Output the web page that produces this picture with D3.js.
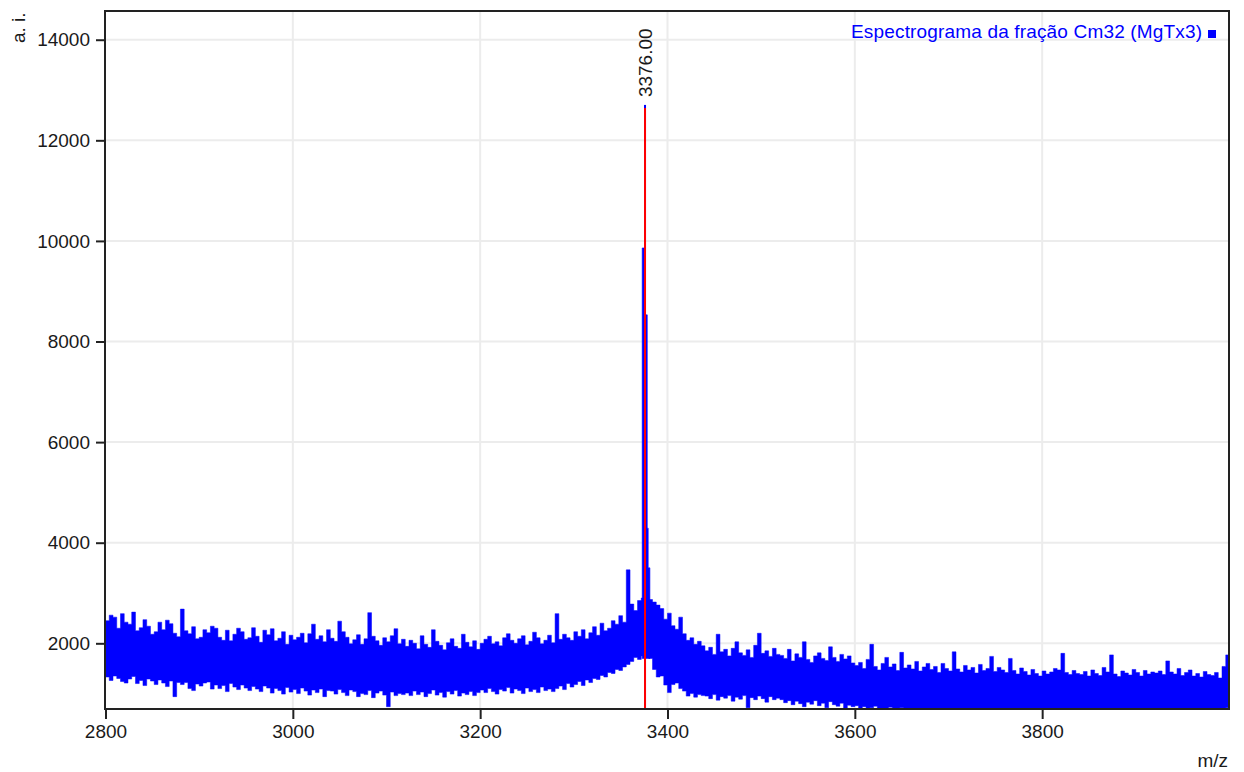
<!DOCTYPE html>
<html><head><meta charset="utf-8">
<script src="https://cdn.jsdelivr.net/npm/d3@7"></script>
<style>
body{margin:0;background:#fff}
svg{display:block}
text{font-family:"Liberation Sans",Arial,sans-serif}
</style>
</head><body>
<svg id="c" width="1244" height="772"></svg>
<script>
// ---- data ----
const xTicks = [2800, 3000, 3200, 3400, 3600, 3800];
const yTicks = [2000, 4000, 6000, 8000, 10000, 12000, 14000];
const xDomain = [2800, 4000];
const yDomain = [694, 14571];
const binStart = 2800, binWidth = 4;   // m/z of first bin and bin width
// upper envelope of the spectrum per bin (a.i.)
const upper = [
2450,2560,2520,2300,2590,2420,2380,2620,2250,2310,2470,2340,2180,2230,2420,2270,2460,2390,2200,2130,
2680,2250,2190,2330,2090,2120,2270,2210,2340,2300,2120,2060,2260,2050,2180,2300,2230,2080,2110,2310,
2140,2020,2260,2170,2290,2050,2100,2230,1980,2160,2070,2120,2200,2010,2190,2380,2080,2150,2030,2270,
2100,2040,2440,2230,2120,1990,2070,2170,1980,2090,2610,2140,2050,1960,2110,2030,2150,2290,1990,2080,
1940,2060,2000,1890,2150,1980,1920,2270,2040,1960,1870,2010,2090,1940,1900,2180,2020,1930,2050,1880,
2000,2080,2140,1990,2030,1950,2110,2190,2060,2000,2090,2150,1970,2040,2220,2110,1990,2060,2160,2010,
2590,2080,2180,2110,2060,2230,2140,2270,2090,2210,2330,2160,2400,2250,2300,2450,2380,2550,2420,3460,
2780,2650,2850,2900,2950,2870,2820,2760,2690,2480,2600,2350,2280,2520,2190,2060,2110,1980,2040,1950,
1850,1920,1780,2180,1830,1880,1750,1900,2030,1810,1760,1870,1720,1960,2200,1800,1850,1740,1900,1780,
1760,1700,1880,1650,1790,1720,2030,1680,1620,1750,1810,1700,1660,1930,1720,1640,1780,1690,1750,1610,
1560,1620,1500,1680,1980,1540,1470,1600,1720,1530,1590,1460,1820,1510,1570,1490,1640,1450,1530,1600,
1480,1540,1420,1600,1500,1450,1830,1490,1430,1560,1470,1520,1410,1580,1460,1500,1740,1440,1520,1470,
1420,1700,1460,1390,1510,1440,1370,1480,1400,1350,1450,1390,1430,1500,1470,1800,1420,1380,1460,1400,
1380,1440,1350,1470,1400,1360,1520,1430,1770,1390,1340,1450,1410,1370,1480,1420,1350,1460,1390,1430,
1410,1450,1380,1650,1430,1390,1500,1360,1420,1470,1350,1400,1330,1440,1380,1360,1420,1310,1540,1770
];
// lower envelope of the spectrum per bin (a.i.)
const lower = [
1330,1260,1350,1300,1240,1210,1290,1340,1200,1260,1160,1290,1250,1180,1270,1210,1140,1250,940,1220,
1180,1220,1100,1060,1190,1150,1210,1230,1090,1170,1100,1160,1040,1200,1130,1080,1170,1110,1060,1140,
1090,1040,1150,1110,1010,1100,1060,990,1120,1030,1080,1000,1110,1050,970,1070,1020,1090,940,1060,
1050,990,1080,1020,960,1070,1040,940,1000,980,1060,920,1010,1050,970,740,1030,960,1000,980,
1010,960,1050,980,1030,940,1000,1070,970,1020,930,1040,990,1060,950,1010,980,1040,960,1020,
1070,1020,1100,1040,990,1080,1050,1120,1010,1090,1060,1000,1110,1040,1080,1020,1130,1060,1090,1040,
1100,1150,1080,1200,1130,1180,1240,1160,1270,1220,1300,1280,1360,1330,1420,1400,1480,1460,1530,1580,
1640,1720,1680,1750,1760,1700,1480,1330,1350,1170,1020,1180,1210,1100,1050,950,1000,930,980,960,
950,900,980,870,940,910,960,850,930,890,960,720,920,880,950,900,830,940,880,910,
880,820,860,780,850,800,740,830,790,860,760,810,720,840,780,750,810,700,770,740,
760,700,740,680,720,750,690,710,660,730,700,670,720,690,650,710,680,700,660,690,
700,670,690,650,710,680,660,690,640,700,670,650,690,660,700,640,680,660,700,650,
680,650,700,660,640,690,670,650,700,660,640,680,650,670,690,640,660,700,650,670,
650,680,660,700,640,670,690,650,660,680,700,640,670,650,690,660,640,680,700,660,
680,660,700,650,690,670,640,680,660,700,650,690,670,640,680,660,700,650,680,720
];
// main peak cluster (m/z, a.i.)
const peakMz  = [3373.0, 3375.6, 3376.4, 3378.4, 3379.4, 3381.2];
const peakInt = [9860, 12700, 8530, 4290, 3500, 2900];
const peakBase = 1700;
const annotatedMz = 3376.00;
const annotatedInt = 12700;
const seriesName = "Espectrograma da fração Cm32 (MgTx3)";
const yTitle = "a. i.";
const xTitle = "m/z";

// ---- chart ----
const svg = d3.select("#c");
const L = 105, R = 1229, T = 11, B = 709;
const x = d3.scaleLinear().domain(xDomain).range([L + 0.5, R + 0.5]);
const y = d3.scaleLinear().domain(yDomain).range([B, T]);
const FS = 19;
const blue = "#0000ff", red = "#ff0000", ink = "#1a1a1a";

svg.append("defs").append("clipPath").attr("id", "clip")
  .append("rect").attr("x", L).attr("y", T).attr("width", R - L).attr("height", B - T);

// grid
const grid = svg.append("g");
grid.selectAll("line.gx").data(xTicks.filter(d => d > xDomain[0])).join("line")
  .attr("x1", d => x(d)).attr("x2", d => x(d)).attr("y1", T).attr("y2", B)
  .attr("stroke", "#ececec").attr("stroke-width", 2);
grid.selectAll("line.gy").data(yTicks).join("line")
  .attr("x1", L).attr("x2", R).attr("y1", d => y(d)).attr("y2", d => y(d))
  .attr("stroke", "#ececec").attr("stroke-width", 2);

// spectrum band
const bins = upper.map((u, i) => ({mz: binStart + i * binWidth, hi: u, lo: lower[i]}));
bins.push({mz: xDomain[1], hi: upper[upper.length - 1], lo: lower[lower.length - 1]});
const plot = svg.append("g").attr("clip-path", "url(#clip)");
plot.append("path").datum(bins)
  .attr("d", d3.area().curve(d3.curveStepAfter).x(d => x(d.mz)).y0(d => y(d.lo)).y1(d => y(d.hi)))
  .attr("fill", blue).attr("stroke", blue).attr("stroke-width", 0.5);

// peak cluster
const peak = peakMz.map((m, i) => ({mz: m, v: peakInt[i]}));
plot.append("path").datum(peak)
  .attr("d", d3.area().curve(d3.curveStepAfter).x(d => x(d.mz)).y0(y(peakBase)).y1(d => y(d.v)))
  .attr("fill", blue).attr("stroke", blue).attr("stroke-width", 0.6);

// annotated peak marker
plot.append("line")
  .attr("x1", x(annotatedMz)).attr("x2", x(annotatedMz))
  .attr("y1", y(annotatedInt)).attr("y2", B)
  .attr("stroke", blue).attr("stroke-width", 2);
plot.append("line")
  .attr("x1", x(annotatedMz)).attr("x2", x(annotatedMz))
  .attr("y1", y(annotatedInt) + 3).attr("y2", B)
  .attr("stroke", red).attr("stroke-width", 2);
svg.append("text")
  .attr("transform", `translate(${x(annotatedMz) + 6.5},${y(annotatedInt) - 8}) rotate(-90)`)
  .attr("font-size", FS).attr("fill", ink)
  .text(annotatedMz.toFixed(2));

// frame
svg.append("rect").attr("x", L).attr("y", T).attr("width", R - L).attr("height", B - T)
  .attr("fill", "none").attr("stroke", "#222").attr("stroke-width", 2);

// axes
const xAxis = svg.append("g").attr("transform", `translate(0,${B})`)
  .call(d3.axisBottom(x).tickValues(xTicks).tickSize(10).tickPadding(6).tickFormat(d3.format("d")));
const yAxis = svg.append("g").attr("transform", `translate(${L},0)`)
  .call(d3.axisLeft(y).tickValues(yTicks).tickSize(9).tickPadding(6).tickFormat(d3.format("d")));
[xAxis, yAxis].forEach(g => {
  g.select(".domain").remove();
  g.selectAll(".tick line").attr("stroke", "#222").attr("stroke-width", 2);
  g.selectAll(".tick text").attr("font-size", FS).attr("fill", ink)
    .attr("font-family", '"Liberation Sans",Arial,sans-serif');
});

// axis titles
svg.append("text").attr("transform", "translate(25,43) rotate(-90)")
  .attr("font-size", FS).attr("fill", ink).text(yTitle);
svg.append("text").attr("x", 1228).attr("y", 767).attr("text-anchor", "end")
  .attr("font-size", FS).attr("fill", ink).text(xTitle);

// legend
svg.append("text").attr("x", 1202).attr("y", 38).attr("text-anchor", "end")
  .attr("font-size", FS).attr("fill", blue)
  .attr("textLength", 351).attr("lengthAdjust", "spacing").text(seriesName);
svg.append("rect").attr("x", 1208).attr("y", 30).attr("width", 8).attr("height", 8).attr("fill", blue);
</script>
</body></html>
